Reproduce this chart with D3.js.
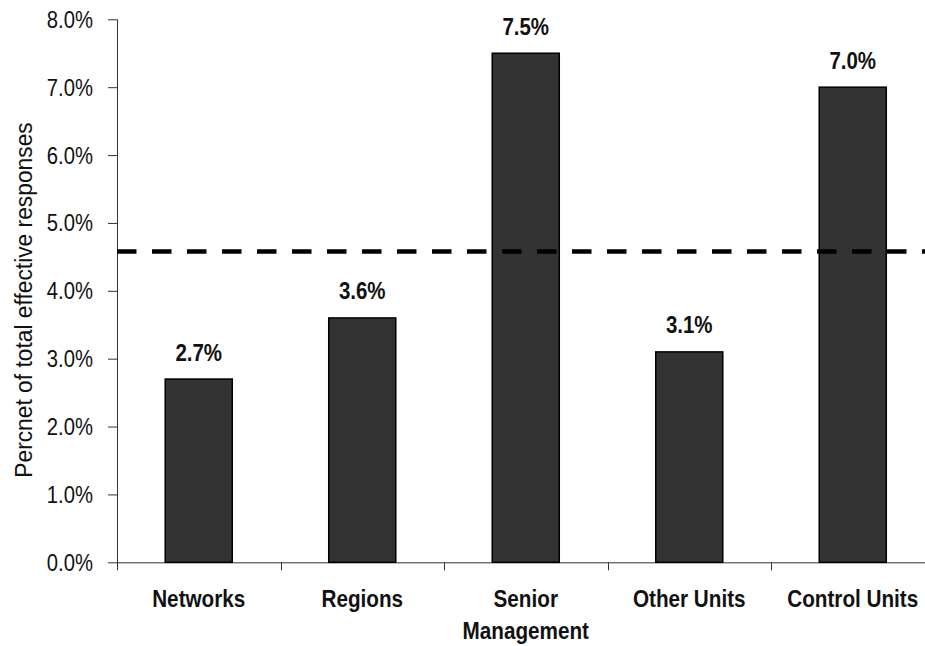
<!DOCTYPE html>
<html><head><meta charset="utf-8">
<script src="https://cdn.jsdelivr.net/npm/d3@7"></script>
<style>
body{margin:0;background:#fff;}
svg text{font-family:"Liberation Sans",Arial,sans-serif;fill:#111;}
</style></head>
<body><svg id="c" width="925" height="646"></svg>
<script>
const categories = ["Networks", "Regions", "Senior Management", "Other Units", "Control Units"];
const categoryLines = [["Networks"], ["Regions"], ["Senior", "Management"], ["Other Units"], ["Control Units"]];
const values = [2.7, 3.6, 7.5, 3.1, 7.0];
const valueLabels = ["2.7%", "3.6%", "7.5%", "3.1%", "7.0%"];
const averageValue = 4.58;
const yTicks = [0, 1, 2, 3, 4, 5, 6, 7, 8];
const yTickLabels = ["0.0%", "1.0%", "2.0%", "3.0%", "4.0%", "5.0%", "6.0%", "7.0%", "8.0%"];
const yTitle = "Percnet of total effective responses";

(function () {
const svg = d3.select("#c");
const L = 117, R = 934.5, T = 19.3, B = 562.3;

const x = d3.scaleBand().domain(categories).range([L, R]).paddingInner(0.59).paddingOuter(0.295);
const xb = d3.scaleBand().domain(categories).range([L, R]);
const y = d3.scaleLinear().domain([0, 8]).range([B, T]);

function label(parent, px, py, str, size, weight, sx, anchor) {
  return parent.append("text")
    .attr("transform", `translate(${px},${py}) scale(${sx},1)`)
    .attr("text-anchor", anchor || "middle")
    .style("font-size", size + "px").style("font-weight", weight)
    .text(str);
}

// y axis
const yAxis = svg.append("g").attr("transform", `translate(${L},0)`)
  .call(d3.axisLeft(y).tickValues(yTicks).tickFormat((d, i) => yTickLabels[i]).tickSizeOuter(0).tickSize(9));
yAxis.select(".domain").attr("stroke", "#333").attr("d", `M0.5,${T}V${B + 8}`);
yAxis.selectAll(".tick line").attr("stroke", "#333");
yAxis.selectAll(".tick text").attr("x", null).attr("dy", null)
  .attr("transform", "translate(-24,8) scale(0.88,1)")
  .style("font-size", "23px").style("font-family", '"Liberation Sans",Arial,sans-serif').attr("fill", "#222");

// x axis
const xAxis = svg.append("g").attr("transform", `translate(0,${B})`);
xAxis.append("line").attr("x1", L).attr("x2", 925).attr("y1", 0.5).attr("y2", 0.5).attr("stroke", "#333");
xAxis.selectAll("line.xt").data(categories.slice(1)).join("line").attr("class", "xt")
  .attr("x1", d => Math.round(xb(d)) + 0.5).attr("x2", d => Math.round(xb(d)) + 0.5)
  .attr("y1", 0).attr("y2", 8).attr("stroke", "#333");
categories.forEach((c, i) => {
  categoryLines[i].forEach((ln, j) => {
    label(xAxis, xb(c) + xb.bandwidth() / 2, 44.5 + j * 32.5, ln, 23, "bold", 0.9);
  });
});

// bars
svg.selectAll("rect.bar").data(values).join("rect").attr("class", "bar")
  .attr("x", (d, i) => x(categories[i])).attr("width", x.bandwidth())
  .attr("y", d => y(d)).attr("height", d => y(0) - y(d))
  .attr("fill", "#333333").attr("stroke", "#000").attr("stroke-width", 1.5);

// value labels
values.forEach((v, i) => {
  label(svg, x(categories[i]) + x.bandwidth() / 2, y(v) - 18.5, valueLabels[i], 23, "bold", 0.89);
});

// average dashed line
svg.append("line").attr("x1", L).attr("x2", 925).attr("y1", y(averageValue)).attr("y2", y(averageValue))
  .attr("stroke", "#000").attr("stroke-width", 4.5).attr("stroke-dasharray", "19.5,15.5");

// y title
svg.append("text").attr("transform", `translate(31.5,300) rotate(-90) scale(0.95,1)`)
  .attr("text-anchor", "middle").style("font-size", "24px").text(yTitle);
})();
</script></body></html>
